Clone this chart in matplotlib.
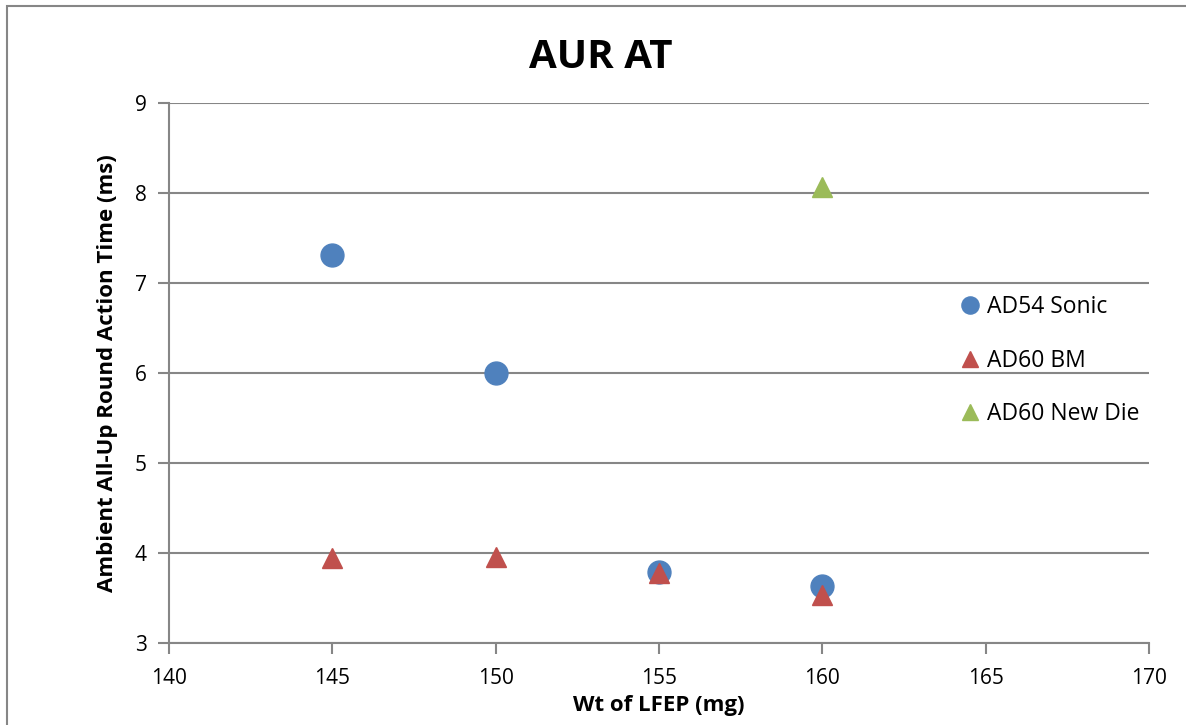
import matplotlib
matplotlib.use("Agg")
import matplotlib.pyplot as plt
from matplotlib.patches import Rectangle

plt.rcParams['font.family'] = ['Open Sans', 'DejaVu Sans']

sonic_x = [145, 150, 155, 160]
sonic_y = [7.31, 6.00, 3.79, 3.63]
bm_x = [145, 150, 155, 160]
bm_y = [3.94, 3.96, 3.78, 3.53]
newdie_x = [160]
newdie_y = [8.07]
x_ticks = [140, 145, 150, 155, 160, 165, 170]
y_ticks = [3, 4, 5, 6, 7, 8, 9]

grey = '#868686'
fig = plt.figure(figsize=(11.86, 7.25), dpi=100)
ax = fig.add_axes([169/1186, 82/725, (1149-169)/1186, (643-103)/725])

ax.plot(sonic_x, sonic_y, 'o', color='#4F81BD', ms=16.5, mec='#4F81BD', label='AD54 Sonic', zorder=3)
ax.plot(bm_x, bm_y, '^', color='#C0504D', ms=14.5, mec='#C0504D', label='AD60 BM', zorder=4)
ax.plot(newdie_x, newdie_y, '^', color='#9BBB59', ms=14.5, mec='#9BBB59', label='AD60 New Die', zorder=4)

ax.set_xlim(140, 170)
ax.set_ylim(3, 9)
ax.set_xticks(x_ticks)
ax.set_yticks(y_ticks)
ax.grid(axis='y', color=grey, lw=1.5)
ax.set_axisbelow(True)
for s in ['top', 'right']:
    ax.spines[s].set_visible(False)
for s in ['left', 'bottom']:
    ax.spines[s].set_color(grey)
    ax.spines[s].set_linewidth(1.5)
ax.tick_params(axis='both', colors=grey, width=1.5, length=8, direction='out',
               labelcolor='black', labelsize=15)
ax.tick_params(axis='x', pad=10)
ax.tick_params(axis='y', pad=8)

ax.set_xlabel('Wt of LFEP (mg)', fontsize=16, fontweight='bold', labelpad=4)
ax.set_ylabel('Ambient All-Up Round Action Time (ms)', fontsize=16, fontweight='bold', labelpad=12)
fig.text(601/1186, 1-57/725, 'AUR AT', fontsize=29, fontweight='bold', ha='center', va='center')

leg = ax.legend(loc='center left', bbox_to_anchor=(0.79, 0.523), frameon=False,
                fontsize=16.5, handletextpad=0.1, labelspacing=1.27, borderpad=0,
                handlelength=1.3, markerscale=0.75)

fig.patches.append(Rectangle((7/1186, -0.1), 1.2, 1.1 - 6/725, transform=fig.transFigure,
                             fill=False, edgecolor=grey, lw=1.5))

fig.savefig('out.png', dpi=100)
